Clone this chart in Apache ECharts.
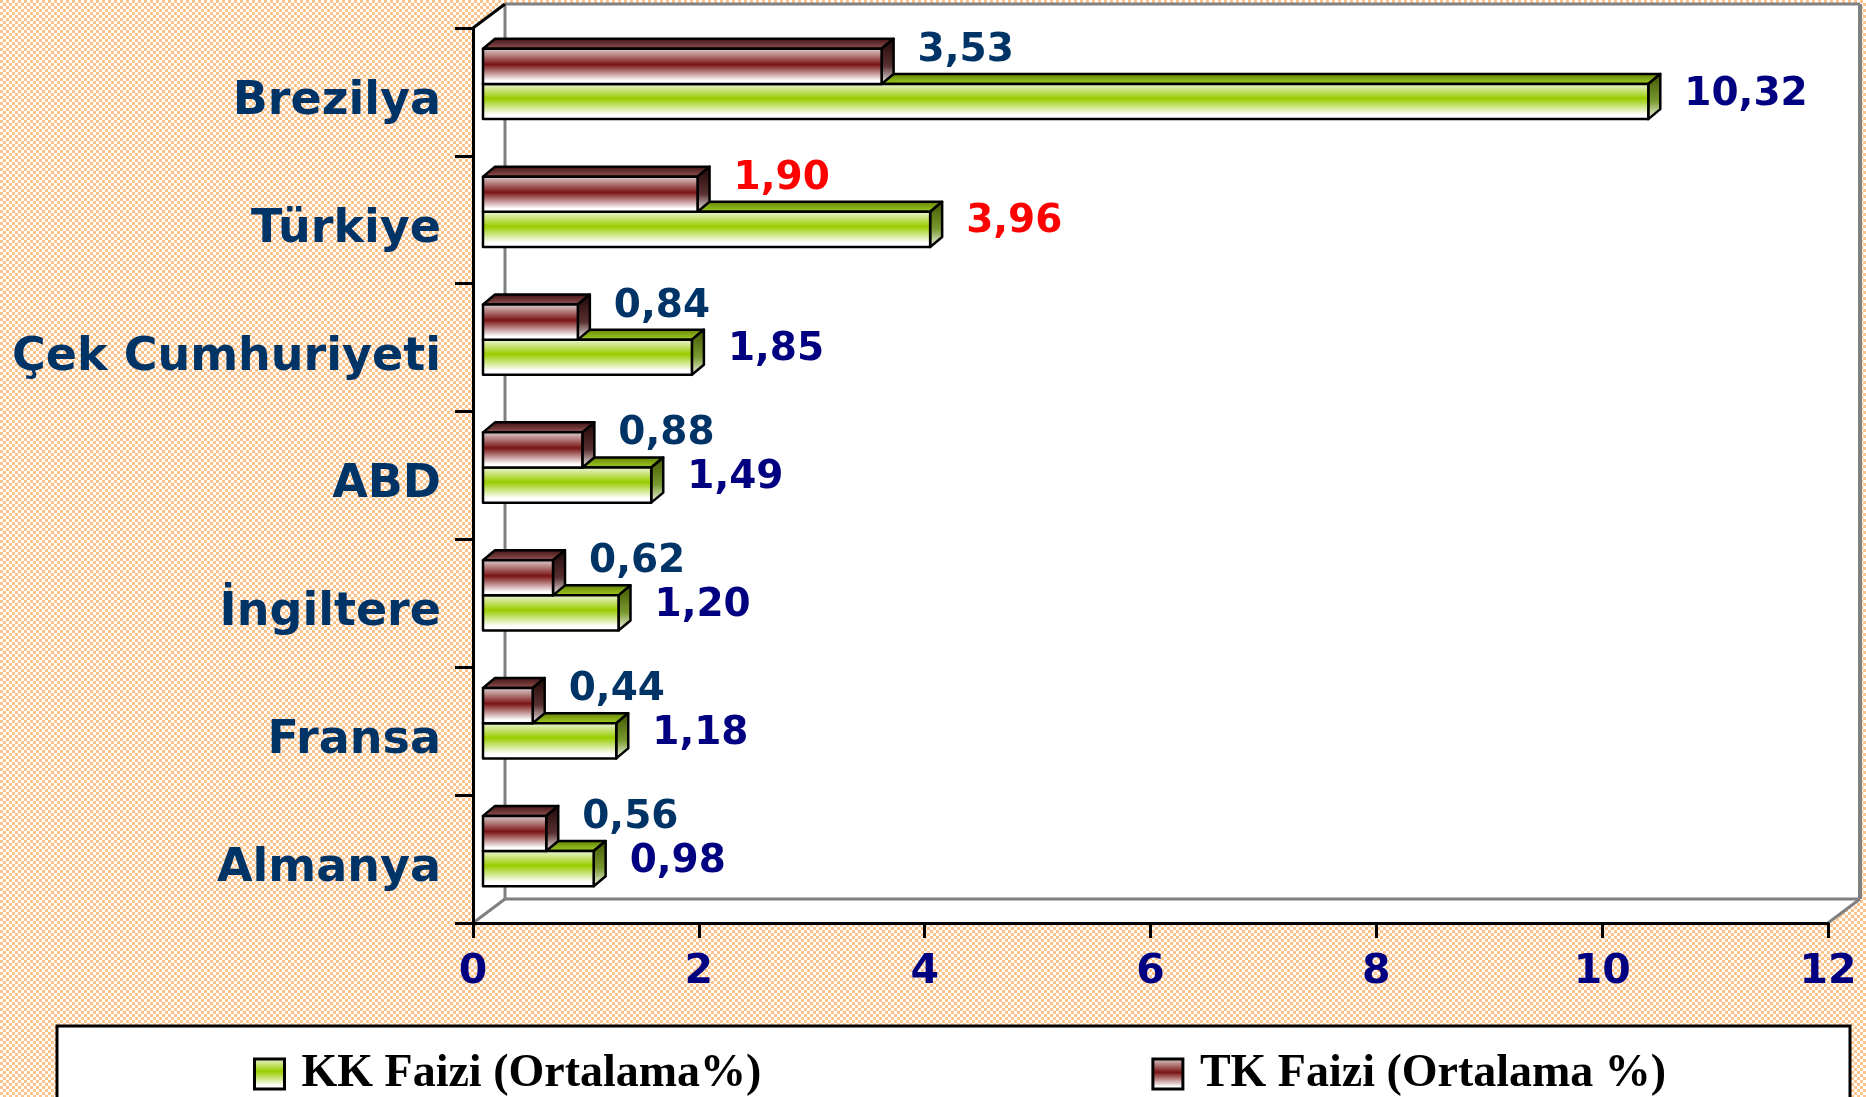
<!DOCTYPE html>
<html>
<head>
<meta charset="utf-8">
<script src="https://cdn.jsdelivr.net/npm/echarts@6/dist/echarts.min.js"></script>
<style>
html,body{margin:0;padding:0;background:#fff;}
#chart{width:1866px;height:1097px;}
</style>
</head>
<body>
<div id="chart"></div>
<script>
// ---- data ----
const categories = ['Almanya', 'Fransa', 'İngiltere', 'ABD', 'Çek Cumhuriyeti', 'Türkiye', 'Brezilya'];
const kkValues = [0.98, 1.18, 1.20, 1.49, 1.85, 3.96, 10.32];
const tkValues = [0.56, 0.44, 0.62, 0.88, 0.84, 1.90, 3.53];
const seriesNames = ['KK Faizi (Ortalama%)', 'TK Faizi (Ortalama %)'];
const xMin = 0, xMax = 12, xInterval = 2;
const highlightCategory = 'Türkiye';

// ---- styles ----
const G = echarts.graphic;
const greenFront = () => new G.LinearGradient(0, 0, 0, 1, [
  {offset: 0, color: '#f4f9e6'}, {offset: 0.42, color: '#99cc00'}, {offset: 0.85, color: '#ffffff'}, {offset: 1, color: '#ffffff'}]);
const redFront = () => new G.LinearGradient(0, 0, 0, 1, [
  {offset: 0, color: '#e6dcdc'}, {offset: 0.45, color: '#7a1414'}, {offset: 0.88, color: '#ffffff'}, {offset: 1, color: '#ffffff'}]);
const greenTop = () => new G.LinearGradient(0, 0, 0, 1, [{offset: 0, color: '#5e7d00'}, {offset: 1, color: '#a8d42a'}]);
const redTop = () => new G.LinearGradient(0, 0, 0, 1, [{offset: 0, color: '#3a0c0c'}, {offset: 1, color: '#9a5a5a'}]);
const greenSide = () => new G.LinearGradient(0, 0, 0, 1, [{offset: 0, color: '#3f5400'}, {offset: 0.6, color: '#7a9a30'}, {offset: 1, color: '#ffffff'}]);
const redSide = () => new G.LinearGradient(0, 0, 0, 1, [{offset: 0, color: '#1e0606'}, {offset: 0.6, color: '#5a3030'}, {offset: 1, color: '#ffffff'}]);

function fmt(v) { return v.toFixed(2).replace('.', ','); }

function makeBarRender(kind) {
  return function (params, api) {
    const ci = api.value(0);
    const v = api.value(1);
    const p0 = api.coord([0, ci]);
    const p1 = api.coord([v, ci]);
    const band = api.size([0, 1])[1];
    const h = band * 0.275;
    const ox = 10, oy = -8, dx = 12, dy = -10;
    const L = p0[0] + ox, R = p1[0] + ox;
    const cy = p0[1] + oy;
    let T, B;
    if (kind === 'tk') { T = cy - h; B = cy; } else { T = cy; B = cy + h; }
    const isTk = kind === 'tk';
    const stroke = {stroke: '#000', lineWidth: 2.5, lineJoin: 'round'};
    const cat = categories[ci];
    const labelColor = cat === highlightCategory ? '#ff0000' : (isTk ? '#003366' : '#000080');
    const labelY = isTk ? T + 2 : (T + B) / 2 - 7;
    return {
      type: 'group',
      children: [
        {type: 'polygon', shape: {points: [[L, T], [L + dx, T + dy], [R + dx, T + dy], [R, T]]},
          style: Object.assign({fill: isTk ? redTop() : greenTop()}, stroke)},
        {type: 'polygon', shape: {points: [[R, T], [R + dx, T + dy], [R + dx, B + dy], [R, B]]},
          style: Object.assign({fill: isTk ? redSide() : greenSide()}, stroke)},
        {type: 'rect', shape: {x: L, y: T, width: R - L, height: B - T},
          style: Object.assign({fill: isTk ? redFront() : greenFront()}, stroke)},
        {type: 'text', style: {text: fmt(v), x: R + 36, y: labelY,
          font: 'bold 39px "DejaVu Sans"', fill: labelColor, align: 'left', verticalAlign: 'middle'}}
      ]
    };
  };
}

function wallRender(params, api) {
  const cs = params.coordSys;
  const x = cs.x, y = cs.y, w = cs.width, h = cs.height;
  const dx = 32, dy = -24;
  return {
    type: 'group',
    children: [
      {type: 'polygon', shape: {points: [[x, y], [x + dx, y + dy], [x + w + dx, y + dy], [x + w + dx, y + h + dy], [x + w, y + h], [x, y + h]]},
        style: {fill: '#ffffff'}},
      {type: 'line', shape: {x1: x + dx, y1: y + dy, x2: x + dx, y2: y + h + dy}, style: {stroke: '#808080', lineWidth: 3}},
      {type: 'line', shape: {x1: x + dx, y1: y + h + dy, x2: x + w + dx, y2: y + h + dy}, style: {stroke: '#808080', lineWidth: 3}},
      {type: 'line', shape: {x1: x + dx, y1: y + dy, x2: x + w + dx, y2: y + dy}, style: {stroke: '#808080', lineWidth: 3}},
      {type: 'line', shape: {x1: x + w + dx, y1: y + dy, x2: x + w + dx, y2: y + h + dy}, style: {stroke: '#808080', lineWidth: 4}},
      {type: 'line', shape: {x1: x, y1: y + h, x2: x + dx, y2: y + h + dy}, style: {stroke: '#808080', lineWidth: 3}},
      {type: 'line', shape: {x1: x + w, y1: y + h, x2: x + w + dx, y2: y + h + dy}, style: {stroke: '#808080', lineWidth: 3}},
      {type: 'line', shape: {x1: x, y1: y, x2: x + dx, y2: y + dy}, style: {stroke: '#000000', lineWidth: 3}}
    ]
  };
}

function makePattern() {
  const c = document.createElement('canvas');
  c.width = 24; c.height = 24;
  const g = c.getContext('2d');
  g.fillStyle = '#ffffff';
  g.fillRect(0, 0, 24, 24);
  g.fillStyle = '#ffc48c';
  for (let yy = 0; yy < 24; yy += 3) {
    for (let xx = 0; xx < 24; xx += 3) {
      if (((xx + yy) / 3) % 2 === 0) g.fillRect(xx, yy, 3, 3);
    }
  }
  return c;
}

const chart = echarts.init(document.getElementById('chart'), null, {renderer: 'canvas'});
const option = {
  animation: false,
  backgroundColor: {image: makePattern(), repeat: 'repeat'},
  grid: {left: 473, right: 38, top: 28, bottom: 174},
  graphic: [{
    type: 'rect', z: 0,
    shape: {x: 57, y: 1026, width: 1793, height: 120},
    style: {fill: '#ffffff', stroke: '#000000', lineWidth: 3}
  }],
  legend: {
    left: 253, top: 1051, z: 10,
    padding: 0,
    itemWidth: 30, itemHeight: 30, itemGap: 390,
    textStyle: {fontFamily: '"Liberation Serif"', fontWeight: 'bold', fontSize: 46, color: '#000', padding: [0, 0, 0, 12]},
    data: [
      {name: seriesNames[0], icon: 'rect', itemStyle: {color: greenFront(), borderColor: '#000', borderWidth: 3}},
      {name: seriesNames[1], icon: 'rect', itemStyle: {color: redFront(), borderColor: '#000', borderWidth: 3}}
    ]
  },
  xAxis: {
    type: 'value', min: xMin, max: xMax, interval: xInterval,
    splitLine: {show: false},
    axisLine: {show: true, lineStyle: {color: '#000', width: 3}},
    axisTick: {show: true, length: 15, lineStyle: {color: '#000', width: 3}},
    axisLabel: {margin: 29, fontFamily: '"DejaVu Sans"', fontWeight: 'bold', fontSize: 41, color: '#000080'}
  },
  yAxis: {
    type: 'category', data: categories,
    axisLine: {show: true, lineStyle: {color: '#000', width: 3}},
    axisTick: {show: true, length: 18, lineStyle: {color: '#000', width: 3}},
    axisLabel: {
      margin: 32,
      formatter: function (v) { return '{c|' + v + '}'; },
      rich: {c: {fontFamily: '"DejaVu Sans"', fontWeight: 'bold', fontSize: 46, color: '#003366',
        lineHeight: 66, verticalAlign: 'bottom'}}
    }
  },
  series: [
    {type: 'custom', name: '__wall', z: -1, silent: true, renderItem: wallRender, data: [[0, 0]], encode: {x: 0, y: 1}},
    {type: 'custom', name: seriesNames[0], renderItem: makeBarRender('kk'), itemStyle: {color: '#99cc00'},
      data: kkValues.map((v, i) => [i, v]), encode: {x: 1, y: 0}},
    {type: 'custom', name: seriesNames[1], renderItem: makeBarRender('tk'), itemStyle: {color: '#7a1414'},
      data: tkValues.map((v, i) => [i, v]), encode: {x: 1, y: 0}}
  ]
};
chart.setOption(option);
</script>
</body>
</html>
